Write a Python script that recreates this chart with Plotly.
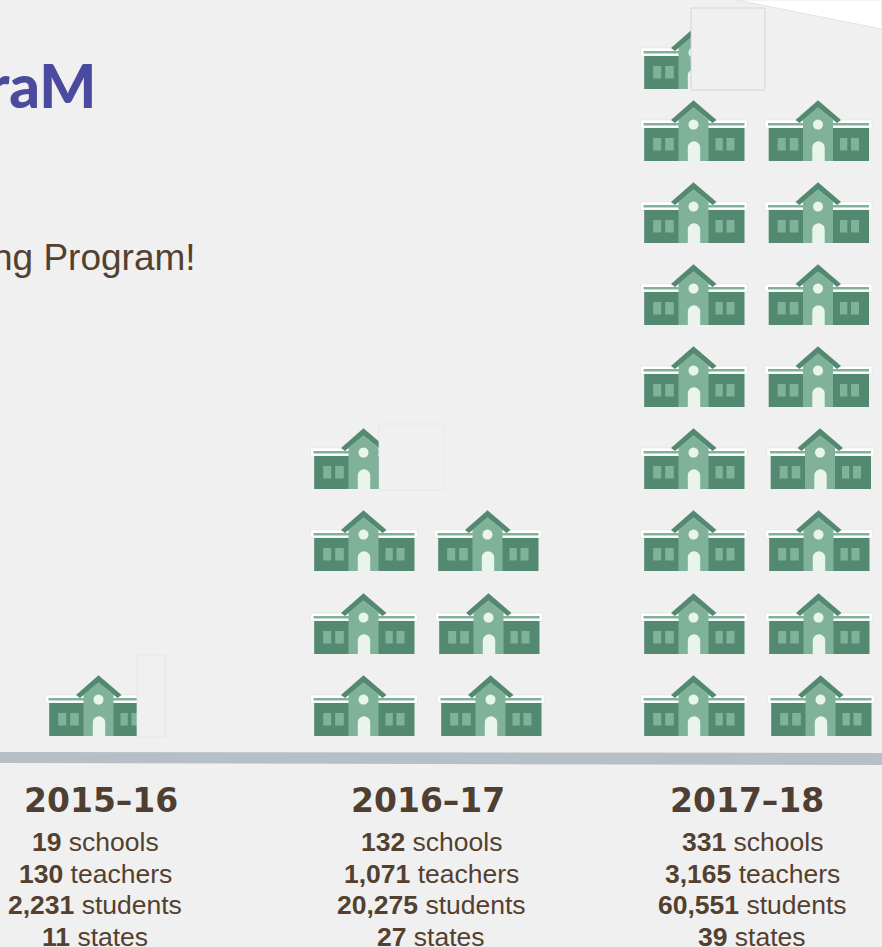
import numpy as np
import plotly.graph_objects as go

# ---- data ----
seasons = ["2015-16", "2016-17", "2017-18"]
schools = [19, 132, 331]
teachers = [130, 1071, 3165]
students = [2231, 20275, 60551]
states = [11, 27, 39]
full_icons = [0, 6, 16]

# ---- layout and style ----
W, H = 882, 947
BG = "#f0f0f0"
DARK, MID, LIGHT = "#538871", "#80b29a", "#e8f4ec"
TEXT = "#54402f"
LEFT_X = [45.5, 310.5, 640.5]
RIGHT_X = [[], [437.5, 435.5, 434.5], [767.5, 765.5, 765.5, 767, 765, 765, 765, 765]]
ROW_BOTTOM = [736, 654, 571, 489, 407, 325, 243, 161, 89]
HEAD_X = [101, 428, 747]
STAT_X = [95, 431, 752]
STAT_Y = [842, 873.5, 905, 936.5]
COVER = [(137, 165, 655, 737), (379, 444, 424, 490), (691, 765, 8, 90)]
COVER_LINE = ["#e3e3e3", "#e6e6e6", "#cfcfcf"]


def poly(store, x0, y0, pts):
    store[0].extend([x0 + p[0] for p in pts] + [None])
    store[1].extend([y0 - p[1] for p in pts] + [None])


def rect(a, b, c, d):
    return [(a, c), (b, c), (b, d), (a, d), (a, c)]


def circle(cx, cy, r):
    t = np.linspace(0, 2 * np.pi, 25)
    return list(zip(cx + r * np.cos(t), cy + r * np.sin(t)))


def door():
    t = np.linspace(0, np.pi, 15)
    arch = list(zip(53.5 + 6.2 * np.cos(t), 13.5 + 6.2 * np.sin(t)))
    return [(59.7, 0)] + arch + [(47.3, 0), (59.7, 0)]


white, dark, mid, block, light, gable = ([], []), ([], []), ([], []), ([], []), ([], []), ([], [])


def school(x0, y0):
    poly(white, x0, y0, rect(0, 107, 33, 41))
    poly(mid, x0, y0, rect(3, 104, 35.5, 38))
    poly(dark, x0, y0, rect(3.7, 104, 0, 33))
    for a, b in [(12.7, 20.7), (24.7, 33.3), (75, 82.3), (86, 94)]:
        poly(mid, x0, y0, rect(a, b, 10.5, 23))
    poly(block, x0, y0, [(38, 0), (68, 0), (68, 41), (53, 53.5), (38, 41), (38, 0)])
    poly(light, x0, y0, circle(53, 36.4, 5))
    poly(light, x0, y0, door())
    poly(gable, x0, y0, [(30.5, 41), (53, 60.7), (76, 41), (72, 38), (53, 53.5), (34.5, 38), (30.5, 41)])


for col, name in enumerate(seasons):
    for i in range(full_icons[col]):
        row = i // 2
        x0 = LEFT_X[col] if i % 2 == 0 else RIGHT_X[col][row]
        school(x0, ROW_BOTTOM[row])
    school(LEFT_X[col], ROW_BOTTOM[full_icons[col] // 2])

fig = go.Figure()
fig.add_trace(go.Scatter(x=white[0], y=white[1], fill="toself", fillcolor="#ffffff", mode="lines",
                         line=dict(color="#dcdcdc", width=0.5), hoverinfo="skip"))
for store, color in [(dark, DARK), (mid, MID), (block, MID), (light, LIGHT), (gable, DARK)]:
    fig.add_trace(go.Scatter(x=store[0], y=store[1], fill="toself", fillcolor=color, mode="none", hoverinfo="skip"))

shapes = [
    dict(type="path", path="M0,752 L882,753 L882,765 L0,763 Z", fillcolor="#b5bfc5",
         line=dict(width=0), xref="x", yref="y", layer="below"),
    dict(type="path", path="M737,0 L882,29 L882,0 Z", fillcolor="#ffffff",
         line=dict(color="#d8d8d8", width=0.6), xref="x", yref="y", layer="below"),
]
for (a, b, c, d), lc in zip(COVER, COVER_LINE):
    shapes.append(dict(type="rect", x0=a, x1=b, y0=d, y1=c, fillcolor=BG,
                       line=dict(color=lc, width=0.8), xref="x", yref="y", layer="above"))

ann = [
    dict(x=98, y=85, text="raM", xanchor="right", yanchor="middle", showarrow=False,
         font=dict(family="Lato", size=60, color="#4a4a9e", weight=900)),
    dict(x=197.5, y=257, text="ng Program!", xanchor="right", yanchor="middle", showarrow=False,
         font=dict(family="Liberation Sans", size=37, color=TEXT)),
]
for i, s in enumerate(seasons):
    ann.append(dict(x=HEAD_X[i], y=800, text=s.replace("-", "\u2013"), xanchor="center", yanchor="middle",
                    showarrow=False, font=dict(family="DejaVu Sans", size=33, color="#4f3e32", weight="bold")))
    lines = [(schools[i], "schools"), (teachers[i], "teachers"), (students[i], "students"), (states[i], "states")]
    for (v, w), y in zip(lines, STAT_Y):
        ann.append(dict(x=STAT_X[i], y=y, text=f"<b>{v:,}</b> {w}", xanchor="center", yanchor="middle",
                        showarrow=False, font=dict(family="Liberation Sans", size=26.5, color=TEXT)))

fig.update_layout(
    width=W, height=H, margin=dict(l=0, r=0, t=0, b=0), showlegend=False,
    paper_bgcolor=BG, plot_bgcolor=BG, shapes=shapes, annotations=ann,
    xaxis=dict(range=[0, W], visible=False, fixedrange=True),
    yaxis=dict(range=[H, 0], visible=False, fixedrange=True),
)
fig.write_html("out.html", config={"displayModeBar": False},
               post_script="document.body.style.margin='0';document.body.style.overflow='hidden';")
